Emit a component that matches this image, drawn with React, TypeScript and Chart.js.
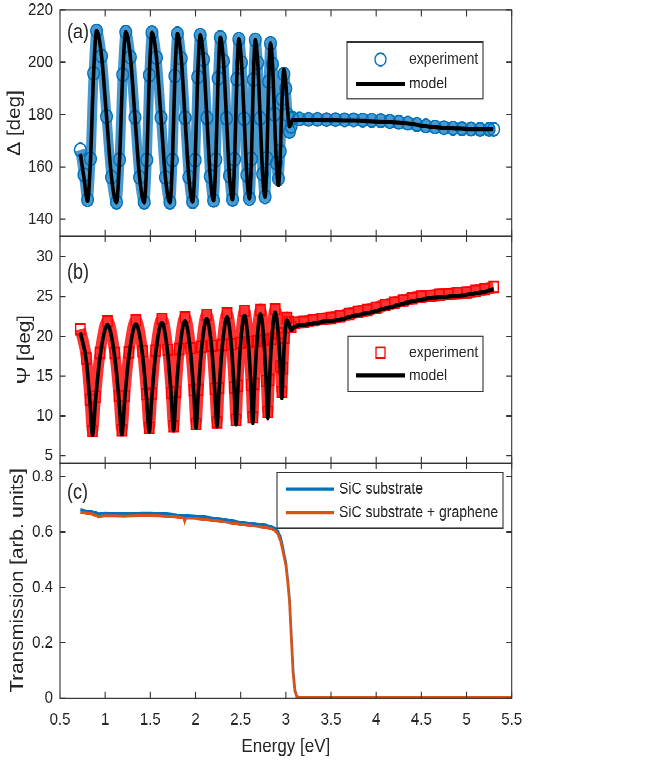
import React, { useEffect, useRef } from 'react';
import { Chart, registerables } from 'chart.js';

Chart.register(...registerables);

// ---------------- data ----------------
const X_TICKS = [0.5, 1, 1.5, 2, 2.5, 3, 3.5, 4, 4.5, 5, 5.5];
const X_TICK_LABELS = ['0.5', '1', '1.5', '2', '2.5', '3', '3.5', '4', '4.5', '5', '5.5'];

const A_TICKS = [140, 160, 180, 200, 220];
const A_TICK_LABELS = ['140', '160', '180', '200', '220'];
const B_TICKS = [5, 10, 15, 20, 25, 30];
const B_TICK_LABELS = ['5', '10', '15', '20', '25', '30'];
const C_TICKS = [0, 0.2, 0.4, 0.6, 0.8];
const C_TICK_LABELS = ['0', '0.2', '0.4', '0.6', '0.8'];

// (a) Delta [deg]
const A_E = [0.725, 0.765, 0.805, 0.838, 0.872, 0.905, 0.960, 1.015, 1.070, 1.125, 1.159, 1.194, 1.228, 1.279, 1.330, 1.381, 1.432, 1.461, 1.489, 1.518, 1.568, 1.618, 1.667, 1.717, 1.745, 1.772, 1.800, 1.842, 1.884, 1.926, 1.968, 1.996, 2.024, 2.052, 2.089, 2.126, 2.163, 2.200, 2.225, 2.250, 2.275, 2.309, 2.343, 2.376, 2.410, 2.433, 2.457, 2.480, 2.509, 2.539, 2.568, 2.597, 2.619, 2.640, 2.662, 2.689, 2.716, 2.743, 2.770, 2.790, 2.810, 2.830, 2.852, 2.874, 2.896, 2.918, 2.938, 2.958, 2.978, 2.999, 3.019, 3.040, 3.058, 3.075, 3.15, 3.25, 3.35, 3.45, 3.55, 3.65, 3.75, 3.85, 3.95, 4.05, 4.15, 4.25, 4.35, 4.45, 4.55, 4.65, 4.75, 4.85, 4.95, 5.05, 5.15, 5.25, 5.30];
const A_MODEL = [165.0, 156.0, 147.0, 163.1, 195.8, 212.0, 202.4, 179.3, 156.1, 146.5, 162.8, 195.3, 211.5, 202.0, 179.0, 156.0, 146.5, 162.7, 195.1, 211.3, 201.8, 178.9, 156.0, 146.5, 162.6, 194.8, 210.9, 201.5, 178.8, 156.1, 146.7, 162.6, 194.4, 210.3, 201.1, 178.8, 156.4, 147.2, 162.8, 193.9, 209.5, 200.5, 178.6, 156.6, 147.6, 162.9, 193.5, 208.8, 199.9, 178.4, 156.9, 148.0, 163.1, 193.4, 208.5, 199.8, 178.6, 157.3, 148.6, 163.3, 192.6, 207.2, 199.3, 180.1, 160.9, 153.0, 164.1, 186.2, 197.2, 192.0, 182.0, 175.5, 176.5, 178.0, 178.0, 177.9, 177.9, 177.8, 177.8, 177.7, 177.7, 177.6, 177.5, 177.4, 177.2, 177.0, 176.6, 176.1, 175.6, 175.2, 174.9, 174.7, 174.6, 174.5, 174.5, 174.5, 174.5];
const A_EXP = [166.5, 157.0, 147.5, 163.1, 195.8, 212.0, 202.4, 179.3, 156.1, 146.5, 162.8, 195.3, 211.5, 202.0, 179.0, 156.0, 146.5, 162.7, 195.1, 211.3, 201.8, 178.9, 156.0, 146.5, 162.6, 194.8, 210.9, 201.5, 178.8, 156.1, 146.7, 162.6, 194.4, 210.3, 201.1, 178.8, 156.4, 147.2, 162.8, 193.9, 209.5, 200.5, 178.6, 156.6, 147.6, 162.9, 193.5, 208.8, 199.9, 178.4, 156.9, 148.0, 163.1, 193.4, 208.5, 199.8, 178.6, 157.3, 148.6, 163.3, 192.6, 207.2, 199.3, 180.1, 161.5, 155.5, 166.0, 186.0, 195.5, 190.0, 180.0, 173.5, 175.5, 178.5, 178.3, 178.2, 178.2, 178.1, 178.1, 178.0, 178.0, 177.9, 177.8, 177.7, 177.4, 177.1, 176.7, 176.2, 175.7, 175.3, 175.0, 174.8, 174.6, 174.5, 174.4, 174.4, 174.4];

// (b) Psi [deg]
const B_E = [0.725, 0.793, 0.833, 0.860, 0.893, 0.943, 1.026, 1.106, 1.153, 1.185, 1.216, 1.263, 1.340, 1.414, 1.458, 1.488, 1.516, 1.558, 1.628, 1.693, 1.732, 1.758, 1.783, 1.821, 1.884, 1.945, 1.982, 2.006, 2.030, 2.065, 2.124, 2.181, 2.215, 2.238, 2.260, 2.294, 2.349, 2.399, 2.429, 2.449, 2.468, 2.496, 2.542, 2.588, 2.616, 2.634, 2.651, 2.677, 2.719, 2.760, 2.784, 2.800, 2.816, 2.841, 2.882, 2.919, 2.941, 2.956, 2.967, 2.984, 3.011, 3.035, 3.059, 3.096, 3.2, 3.3, 3.4, 3.5, 3.6, 3.7, 3.8, 3.9, 4.0, 4.1, 4.2, 4.3, 4.4, 4.5, 4.6, 4.7, 4.8, 4.9, 5.0, 5.1, 5.2, 5.3];
const B_MODEL = [20.5, 16.8, 11.6, 7.6, 11.9, 17.4, 21.4, 17.4, 12.0, 7.7, 12.0, 17.5, 21.5, 17.6, 12.2, 8.0, 12.3, 17.7, 21.7, 17.8, 12.4, 8.2, 12.5, 17.9, 21.9, 18.0, 12.7, 8.5, 12.8, 18.2, 22.2, 18.3, 12.9, 8.7, 13.0, 18.4, 22.4, 18.5, 13.1, 8.9, 13.2, 18.6, 22.6, 18.7, 13.3, 9.1, 13.4, 18.8, 22.8, 19.0, 13.8, 9.7, 13.8, 19.1, 23.0, 19.9, 15.6, 12.2, 15.2, 19.2, 22.0, 21.5, 20.8, 21.2, 21.4, 21.6, 21.8, 21.9, 22.1, 22.4, 22.7, 22.9, 23.2, 23.5, 23.8, 24.1, 24.4, 24.6, 24.8, 24.9, 25.0, 25.1, 25.2, 25.4, 25.6, 25.9];
const B_EXP = [20.9, 17.2, 12.0, 8.1, 12.4, 17.9, 21.9, 17.9, 12.5, 8.2, 12.5, 18.0, 22.0, 18.1, 12.7, 8.5, 12.8, 18.2, 22.2, 18.3, 12.9, 8.7, 13.0, 18.4, 22.4, 18.5, 13.2, 9.0, 13.3, 18.7, 22.7, 18.8, 13.4, 9.2, 13.5, 18.9, 22.9, 19.0, 13.6, 9.5, 13.8, 19.2, 23.2, 19.3, 13.9, 9.8, 14.0, 19.4, 23.3, 19.5, 14.4, 10.5, 14.5, 19.7, 23.4, 20.4, 16.2, 13.0, 16.0, 19.8, 22.3, 21.8, 21.2, 21.7, 21.8, 22.0, 22.2, 22.3, 22.5, 22.8, 23.1, 23.3, 23.6, 23.9, 24.2, 24.5, 24.8, 25.0, 25.1, 25.2, 25.3, 25.4, 25.5, 25.7, 25.9, 26.2];

// (c) Transmission [arb. units]
const C_E = [0.725, 0.78, 0.85, 0.90, 0.93, 0.96, 1.0, 1.1, 1.2, 1.3, 1.4, 1.5, 1.6, 1.7, 1.8, 1.87, 1.88, 1.89, 2.0, 2.1, 2.2, 2.3, 2.4, 2.5, 2.6, 2.7, 2.78, 2.84, 2.88, 2.91, 2.94, 2.96, 2.98, 3.00, 3.02, 3.04, 3.06, 3.08, 3.10, 3.12, 3.15, 3.3, 3.6, 4.0, 4.5, 5.0, 5.5];
const C_SIC = [0.680, 0.677, 0.674, 0.670, 0.664, 0.667, 0.668, 0.667, 0.666, 0.666, 0.668, 0.668, 0.667, 0.665, 0.662, 0.661, 0.660, 0.660, 0.658, 0.655, 0.651, 0.647, 0.641, 0.636, 0.632, 0.628, 0.625, 0.620, 0.613, 0.603, 0.582, 0.555, 0.520, 0.490, 0.430, 0.360, 0.230, 0.100, 0.030, 0.006, 0.001, 0, 0, 0, 0, 0, 0];
const C_GRAPHENE = [0.672, 0.669, 0.665, 0.661, 0.655, 0.658, 0.659, 0.659, 0.658, 0.659, 0.660, 0.660, 0.659, 0.657, 0.654, 0.652, 0.640, 0.651, 0.650, 0.646, 0.642, 0.638, 0.633, 0.628, 0.624, 0.620, 0.617, 0.612, 0.605, 0.594, 0.570, 0.542, 0.510, 0.480, 0.420, 0.350, 0.220, 0.090, 0.025, 0.005, 0.001, 0.001, 0.001, 0.001, 0.001, 0.001, 0.001];

// ---------------- styling / layout ----------------
const W = 660;
const H = 664;            // logical canvas height
const H_OUT = 763;        // displayed height
const SY = H_OUT / H;     // vertical stretch of the reference
const L = (yFinal: number) => yFinal / SY;

const FONT = "'Liberation Sans', Arial, Helvetica, sans-serif";
const TEXT = '#262626';
const AXIS = '#333333';
const BLUE = '#0072BD';
const BLUE_BAND = 'rgba(0,114,189,0.72)';
const RED = '#FF0000';
const RED_BAND = 'rgba(255,0,0,0.8)';
const ORANGE = '#D95319';
const BLACK = '#000000';

const PLOT_LEFT = 60;
const PLOT_RIGHT = 511.7;
const TICK_LEN = 5.5;

Chart.defaults.font.family = FONT;
Chart.defaults.color = TEXT;

const pts = (xs: number[], ys: number[]) => xs.map((x, i) => ({ x, y: ys[i] }));

type Item = { kind: 'circle' | 'rect' | 'line'; color: string; text: string; y: number; width?: number };
type Spec = {
  yTicks: number[];
  label: string;
  labelY: number;
  box: [number, number, number, number];
  m0: number;
  m1: number;
  tx: number;
  items: Item[];
};

function makeOverlay(spec: Spec) {
  return {
    id: 'overlay',
    afterDatasetsDraw(chart: any) {
      const { ctx, chartArea: a } = chart;
      const xs = chart.scales.x;
      const ys = chart.scales.y;
      ctx.save();
      ctx.strokeStyle = AXIS;
      ctx.lineWidth = 1.1;
      ctx.beginPath();
      X_TICKS.forEach((v) => {
        const px = xs.getPixelForValue(v);
        ctx.moveTo(px, a.bottom);
        ctx.lineTo(px, a.bottom - TICK_LEN);
        ctx.moveTo(px, a.top);
        ctx.lineTo(px, a.top + TICK_LEN);
      });
      spec.yTicks.forEach((v) => {
        const py = ys.getPixelForValue(v);
        ctx.moveTo(a.left, py);
        ctx.lineTo(a.left + TICK_LEN, py);
        ctx.moveTo(a.right, py);
        ctx.lineTo(a.right - TICK_LEN, py);
      });
      ctx.stroke();
      ctx.strokeRect(a.left, a.top, a.right - a.left, a.bottom - a.top);
      ctx.restore();
    },
    afterDraw(chart: any) {
      const { ctx } = chart;
      ctx.save();
      ctx.textBaseline = 'middle';
      ctx.textAlign = 'left';
      ctx.fillStyle = TEXT;
      ctx.font = `18px ${FONT}`;
      ctx.fillText(spec.label, 67, L(spec.labelY));

      const [x1, y1, x2, y2] = spec.box;
      ctx.fillStyle = '#ffffff';
      ctx.fillRect(x1, L(y1), x2 - x1, L(y2) - L(y1));
      ctx.strokeStyle = AXIS;
      ctx.lineWidth = 1.1;
      ctx.strokeRect(x1, L(y1), x2 - x1, L(y2) - L(y1));

      const cx = (spec.m0 + spec.m1) / 2;
      spec.items.forEach((it) => {
        const y = L(it.y);
        ctx.strokeStyle = it.color;
        if (it.kind === 'line') {
          ctx.lineWidth = it.width || 3;
          ctx.beginPath();
          ctx.moveTo(spec.m0, y);
          ctx.lineTo(spec.m1, y);
          ctx.stroke();
        } else if (it.kind === 'circle') {
          ctx.lineWidth = 1.3;
          ctx.beginPath();
          ctx.arc(cx, y, 5.5, 0, Math.PI * 2);
          ctx.stroke();
        } else {
          ctx.lineWidth = 1.3;
          const s = 9;
          ctx.strokeRect(cx - s / 2, y - s / 2, s, s);
        }
        ctx.fillStyle = TEXT;
        ctx.font = `14px ${FONT}`;
        ctx.fillText(it.text, spec.tx, y);
      });
      ctx.restore();
    },
  };
}

function yAxis(min: number, max: number, ticks: number[], labels: string[], title: string, titlePad: number) {
  return {
    type: 'linear',
    position: 'left',
    min,
    max,
    afterBuildTicks: (s: any) => {
      s.ticks = ticks.map((v) => ({ value: v }));
    },
    afterFit: (s: any) => {
      s.width = PLOT_LEFT;
      s.paddingTop = 0;
      s.paddingBottom = 0;
    },
    grid: { display: false, drawTicks: false },
    border: { display: false },
    ticks: { padding: 7, color: TEXT, font: { size: 15 }, callback: (_v: any, i: number) => labels[i] },
    title: { display: true, text: title, color: TEXT, font: { size: 18 }, padding: { top: titlePad, bottom: 0 } },
  };
}

const hiddenX = { type: 'linear', min: 0.5, max: 5.5, display: false };

function baseOptions(topFinal: number, bottomPad: number, scales: any) {
  return {
    animation: false,
    responsive: false,
    devicePixelRatio: 2,
    events: [],
    layout: { padding: { left: 0, right: W - PLOT_RIGHT, top: L(topFinal), bottom: bottomPad } },
    plugins: { legend: { display: false }, tooltip: { enabled: false }, title: { display: false } },
    scales,
  };
}

function configA(): any {
  return {
    type: 'line',
    data: {
      datasets: [
        { label: 'model', data: pts(A_E, A_MODEL), borderColor: BLACK, borderWidth: 3.6, pointRadius: 0, cubicInterpolationMode: 'monotone', fill: false, order: 0 },
        {
          label: 'experiment', data: pts(A_E, A_EXP), borderColor: BLUE_BAND, borderWidth: 10, fill: false,
          pointStyle: 'circle', pointRadius: 5.8, pointBorderWidth: 1.4, pointBorderColor: BLUE,
          pointBackgroundColor: 'rgba(0,0,0,0)', cubicInterpolationMode: 'monotone', order: 1,
        },
      ],
    },
    options: baseOptions(10, H - L(236), {
      x: hiddenX,
      y: yAxis(133.6, 220, A_TICKS, A_TICK_LABELS, 'Δ [deg]', 4.2),
    }),
    plugins: [makeOverlay({
      yTicks: A_TICKS, label: '(a)', labelY: 33,
      box: [347, 42, 483, 99], m0: 356, m1: 405, tx: 409,
      items: [
        { kind: 'circle', color: BLUE, text: 'experiment', y: 59.5 },
        { kind: 'line', color: BLACK, text: 'model', y: 84, width: 3.6 },
      ],
    })],
  };
}

function configB(): any {
  return {
    type: 'line',
    data: {
      datasets: [
        { label: 'model', data: pts(B_E, B_MODEL), borderColor: BLACK, borderWidth: 3.6, pointRadius: 0, cubicInterpolationMode: 'monotone', fill: false, order: 0 },
        {
          label: 'experiment', data: pts(B_E, B_EXP), borderColor: RED_BAND, borderWidth: 11, fill: false,
          pointStyle: 'rect', pointRadius: 6.6, pointBorderWidth: 1.4, pointBorderColor: RED,
          pointBackgroundColor: 'rgba(0,0,0,0)', cubicInterpolationMode: 'monotone', order: 1,
        },
      ],
    },
    options: baseOptions(236, H - L(463), {
      x: hiddenX,
      y: yAxis(4.08, 32.6, B_TICKS, B_TICK_LABELS, 'Ψ [deg]', 14.2),
    }),
    plugins: [makeOverlay({
      yTicks: B_TICKS, label: '(b)', labelY: 273,
      box: [348, 336, 483, 391.7], m0: 356, m1: 405, tx: 409,
      items: [
        { kind: 'rect', color: RED, text: 'experiment', y: 352.7 },
        { kind: 'line', color: BLACK, text: 'model', y: 375.7, width: 3.6 },
      ],
    })],
  };
}

function configC(): any {
  return {
    type: 'line',
    data: {
      datasets: [
        { label: 'SiC substrate + graphene', data: pts(C_E, C_GRAPHENE), borderColor: ORANGE, borderWidth: 2.6, pointRadius: 0, fill: false, order: 0 },
        { label: 'SiC substrate', data: pts(C_E, C_SIC), borderColor: BLUE, borderWidth: 2.6, pointRadius: 0, fill: false, order: 1 },
      ],
    },
    options: baseOptions(463, 0, {
      x: {
        type: 'linear',
        position: 'bottom',
        min: 0.5,
        max: 5.5,
        afterBuildTicks: (s: any) => {
          s.ticks = X_TICKS.map((v) => ({ value: v }));
        },
        afterFit: (s: any) => {
          s.height = H - L(698);
          s.paddingLeft = 0;
          s.paddingRight = 0;
        },
        grid: { display: false, drawTicks: false },
        border: { display: false },
        ticks: { padding: 10, color: TEXT, font: { size: 15 }, maxRotation: 0, autoSkip: false, callback: (_v: any, i: number) => X_TICK_LABELS[i] },
        title: { display: true, text: 'Energy [eV]', color: TEXT, font: { size: 17 }, padding: { top: 0, bottom: 4 } },
      },
      y: yAxis(0, 0.85, C_TICKS, C_TICK_LABELS, 'Transmission [arb. units]', 7.2),
    }),
    plugins: [makeOverlay({
      yTicks: C_TICKS, label: '(c)', labelY: 493,
      box: [277, 472.7, 503, 528.3], m0: 286, m1: 334, tx: 339,
      items: [
        { kind: 'line', color: BLUE, text: 'SiC substrate', y: 489, width: 2.6 },
        { kind: 'line', color: ORANGE, text: 'SiC substrate + graphene', y: 512.8, width: 2.6 },
      ],
    })],
  };
}

export default function App() {
  const refA = useRef<HTMLCanvasElement>(null);
  const refB = useRef<HTMLCanvasElement>(null);
  const refC = useRef<HTMLCanvasElement>(null);

  useEffect(() => {
    const charts = [
      new Chart(refA.current as HTMLCanvasElement, configA()),
      new Chart(refB.current as HTMLCanvasElement, configB()),
      new Chart(refC.current as HTMLCanvasElement, configC()),
    ];
    return () => charts.forEach((c) => c.destroy());
  }, []);

  const cv: React.CSSProperties = { position: 'absolute', left: 0, top: 0 };
  return (
    <div style={{ position: 'absolute', left: 0, top: 0, width: W, height: H_OUT, overflow: 'hidden', background: '#ffffff' }}>
      <div style={{ position: 'absolute', left: 0, top: 0, width: W, height: H, transform: `scaleY(${SY})`, transformOrigin: '0 0' }}>
        <canvas ref={refA} width={W} height={H} style={cv} />
        <canvas ref={refB} width={W} height={H} style={cv} />
        <canvas ref={refC} width={W} height={H} style={cv} />
      </div>
    </div>
  );
}
